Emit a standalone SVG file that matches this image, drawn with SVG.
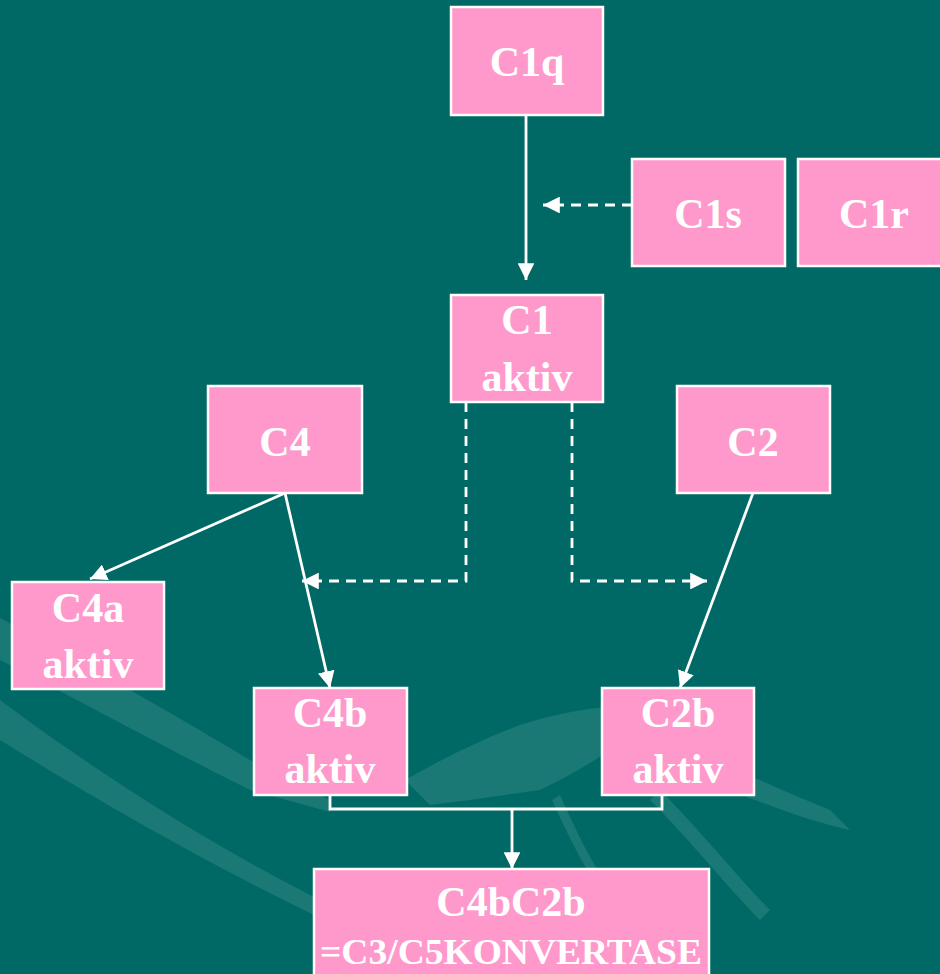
<svg xmlns="http://www.w3.org/2000/svg" width="940" height="974" viewBox="0 0 940 974">
<defs>
<style>
.box{fill:#FF99CC;stroke:#FFFFFF;stroke-width:2.5}
.t{font-family:"Liberation Serif",serif;font-weight:bold;font-size:42px;fill:#FFFFFF;text-anchor:middle}
.t2{font-family:"Liberation Serif",serif;font-weight:bold;font-size:36px;fill:#FFFFFF;text-anchor:middle}
.ln{fill:none;stroke:#FFFFFF;stroke-width:2.8}
.dash{fill:none;stroke:#FFFFFF;stroke-width:2.8;stroke-dasharray:10 7}
.sw{fill:#FFFFFF;fill-opacity:0.1}
</style>
<marker id="ah" viewBox="0 0 10 10" refX="10" refY="5" markerWidth="6" markerHeight="6" markerUnits="strokeWidth" orient="auto">
<path d="M0,0 L10,5 L0,10 z" fill="#FFFFFF"/>
</marker>
</defs>
<rect width="940" height="974" fill="#006966"/>
<g id="background">
<path class="sw" d="M0,618 C60,650 150,700 250,760 L330,800 L330,812 L250,790 C150,740 60,690 0,660 z"/>
<path class="sw" d="M0,700 C80,760 200,840 320,900 L314,915 C200,860 80,790 0,740 z" fill-opacity="0.05"/>
<path class="sw" d="M405,780 C440,760 480,740 520,725 C560,712 600,705 640,706 L660,720 L620,740 C600,760 570,775 540,790 L470,800 L430,805 z"/>
<path class="sw" d="M665,745 C720,760 780,790 830,810 L850,830 C800,820 730,790 680,770 z" fill-opacity="0.07"/>
<path class="sw" d="M660,790 C700,830 740,880 770,910 L760,920 C730,890 690,840 650,800 z" fill-opacity="0.07"/>
<path class="sw" d="M560,795 C580,840 600,880 620,900 L612,905 C590,880 570,840 552,800 z" fill-opacity="0.05"/>
</g>
<g id="connectors">
<line class="ln" x1="526" y1="115" x2="526" y2="280" marker-end="url(#ah)"/>
<line class="dash" x1="632" y1="205" x2="543" y2="205" marker-end="url(#ah)"/>
<polyline class="dash" points="466,402 466,581 302,581" marker-end="url(#ah)"/>
<polyline class="dash" points="572,402 572,581 707,581" marker-end="url(#ah)"/>
<line class="ln" x1="285" y1="493" x2="90" y2="579" marker-end="url(#ah)"/>
<line class="ln" x1="285" y1="493" x2="330" y2="688" marker-end="url(#ah)"/>
<line class="ln" x1="753" y1="493" x2="680" y2="688" marker-end="url(#ah)"/>
<polyline class="ln" points="330,795 330,809 662,809 662,795"/>
<line class="ln" x1="512" y1="809" x2="512" y2="869" marker-end="url(#ah)"/>
</g>
<g id="C1q"><rect class="box" x="451" y="7" width="152" height="108"/><text class="t" x="527" y="76">C1q</text></g>
<g id="C1s"><rect class="box" x="632" y="159" width="153" height="107"/><text class="t" x="708" y="228">C1s</text></g>
<g id="C1r"><rect class="box" x="798" y="159" width="153" height="107"/><text class="t" x="874" y="228">C1r</text></g>
<g id="C1"><rect class="box" x="451" y="295" width="152" height="107"/><text class="t" x="527" y="334">C1</text><text class="t" x="527" y="391">aktiv</text></g>
<g id="C4"><rect class="box" x="208" y="386" width="154" height="107"/><text class="t" x="285" y="456">C4</text></g>
<g id="C2"><rect class="box" x="677" y="386" width="153" height="107"/><text class="t" x="753" y="456">C2</text></g>
<g id="C4a"><rect class="box" x="12" y="582" width="152" height="107"/><text class="t" x="88" y="622">C4a</text><text class="t" x="88" y="678">aktiv</text></g>
<g id="C4b"><rect class="box" x="254" y="688" width="153" height="107"/><text class="t" x="330" y="727">C4b</text><text class="t" x="330" y="783">aktiv</text></g>
<g id="C2b"><rect class="box" x="602" y="688" width="152" height="107"/><text class="t" x="678" y="727">C2b</text><text class="t" x="678" y="783">aktiv</text></g>
<g id="C4bC2b"><rect class="box" x="314" y="869" width="395" height="115"/><text class="t" x="511" y="916">C4bC2b</text><text class="t2" x="511" y="964" textLength="382" lengthAdjust="spacingAndGlyphs">=C3/C5KONVERTASE</text></g>
</svg>
